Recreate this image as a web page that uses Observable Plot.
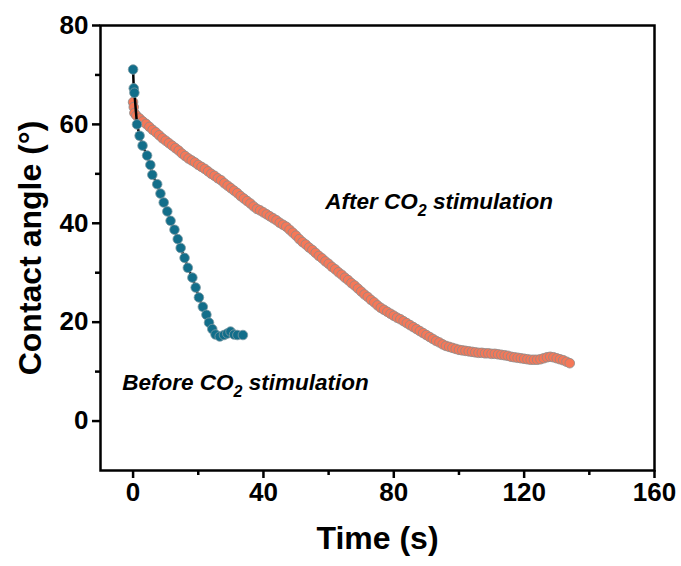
<!DOCTYPE html>
<html>
<head>
<meta charset="utf-8">
<script src="https://cdn.jsdelivr.net/npm/d3@7"></script>
<script src="https://cdn.jsdelivr.net/npm/@observablehq/plot@0.6"></script>
</head>
<body style="margin:0">
<script>
// ---- Data ----
const beforeTime = [0, 0.2, 0.4, 1.2, 2.0, 2.9, 4.3, 5.3, 5.9, 7.4, 8.4, 9.4, 10.5, 11.5, 12.7, 13.7, 14.6, 15.8, 16.8, 18.2, 19.2, 20.2, 21.4, 22.5, 23.3, 24.3, 25.3, 26.6, 27.9, 28.9, 29.9, 31.0, 32.0, 33.7];
const beforeAngle = [71.1, 67.3, 66.4, 60.0, 57.7, 55.7, 53.7, 51.8, 49.8, 47.9, 46.0, 44.2, 42.4, 40.5, 38.7, 36.8, 35.0, 33.0, 31.0, 29.0, 27.0, 25.0, 23.1, 21.5, 19.9, 18.6, 17.5, 17.1, 17.4, 17.7, 18.1, 17.5, 17.4, 17.4];

const afterTime = [0, 0.2, 0.4, 1, 2, 3, 4, 5, 6, 7, 8, 9, 10, 11, 12, 13, 14, 15, 16, 17, 18, 19, 20, 21, 22, 23, 24, 25, 26, 27, 28, 29, 30, 31, 32, 33, 34, 35, 36, 37, 38, 39, 40, 41, 42, 43, 44, 45, 46, 47, 48, 49, 50, 51, 52, 53, 54, 55, 56, 57, 58, 59, 60, 61, 62, 63, 64, 65, 66, 67, 68, 69, 70, 71, 72, 73, 74, 75, 76, 77, 78, 79, 80, 81, 82, 83, 84, 85, 86, 87, 88, 89, 90, 91, 92, 93, 94, 95, 96, 97, 98, 99, 100, 101, 102, 103, 104, 105, 106, 107, 108, 109, 110, 111, 112, 113, 114, 115, 116, 117, 118, 119, 120, 121, 122, 123, 124, 125, 126, 127, 128, 129, 130, 131, 132, 133, 134];
const afterAngle = [64.5, 63.5, 62.3, 61.8, 61.2, 60.6, 60.1, 59.5, 58.9, 58.4, 57.8, 57.2, 56.7, 56.2, 55.7, 55.2, 54.7, 54.1, 53.6, 53.1, 52.7, 52.3, 51.8, 51.4, 51.0, 50.5, 50.0, 49.6, 49.1, 48.7, 48.1, 47.6, 47.1, 46.6, 46.1, 45.5, 45.0, 44.5, 44.0, 43.4, 42.9, 42.6, 42.2, 41.8, 41.4, 41.0, 40.6, 40.1, 39.7, 39.3, 38.7, 38.1, 37.5, 36.8, 36.2, 35.7, 35.1, 34.6, 34.0, 33.4, 32.9, 32.3, 31.8, 31.2, 30.7, 30.1, 29.6, 29.0, 28.5, 27.9, 27.4, 26.8, 26.2, 25.6, 25.1, 24.5, 24.0, 23.4, 22.9, 22.5, 22.1, 21.7, 21.3, 20.9, 20.6, 20.2, 19.8, 19.4, 19.0, 18.6, 18.2, 17.8, 17.4, 17.0, 16.6, 16.2, 15.9, 15.5, 15.2, 15.0, 14.8, 14.6, 14.4, 14.3, 14.2, 14.1, 14.0, 13.9, 13.8, 13.8, 13.7, 13.7, 13.6, 13.6, 13.5, 13.4, 13.3, 13.2, 13.0, 12.9, 12.8, 12.7, 12.6, 12.5, 12.4, 12.4, 12.4, 12.5, 12.7, 12.9, 13.0, 12.9, 12.7, 12.5, 12.3, 12.0, 11.7, 11.4];

const xTicks = [0, 40, 80, 120, 160];
const xMinorTicks = [20, 60, 100, 140];
const yTicks = [0, 20, 40, 60, 80];
const yMinorTicks = [10, 30, 50, 70];

const xLabel = "Time (s)";
const yLabel = "Contact angle (°)";
const annotations = [
  {label: "After CO2 stimulation", t: 59, v: 44.3},
  {label: "Before CO2 stimulation", t: -3.3, v: 7.7}
];

const beforeData = beforeTime.map((t, i) => ({t, v: beforeAngle[i]}));
const afterData = afterTime.map((t, i) => ({t, v: afterAngle[i]}));

const W = 681, H = 566, ML = 100, MR = 27, MT = 25, MB = 96;
const font = "Liberation Sans, Arial, Helvetica, sans-serif";
const axisCommon = {stroke: "#000", strokeOpacity: 1, strokeWidth: 2.5, label: null};

const plot = Plot.plot({
  width: W,
  height: H,
  marginLeft: ML,
  marginRight: MR,
  marginTop: MT,
  marginBottom: MB,
  x: {domain: [-10, 160]},
  y: {domain: [-10, 80]},
  marks: [
    Plot.axisX({...axisCommon, ticks: xMinorTicks, tickSize: 5, text: null}),
    Plot.axisY({...axisCommon, ticks: yMinorTicks, tickSize: 5, text: null}),
    Plot.axisX({...axisCommon, ticks: xTicks, tickSize: 8, tickPadding: 4, fontSize: 26, fontWeight: "bold", fill: "#000"}),
    Plot.axisY({...axisCommon, ticks: yTicks, tickSize: 8, tickPadding: 4, fontSize: 26, fontWeight: "bold", fill: "#000"}),
    Plot.frame({stroke: "#000", strokeWidth: 2.5}),
    Plot.line(afterData, {x: "t", y: "v", stroke: "#000", strokeWidth: 1.5}),
    Plot.dot(afterData, {x: "t", y: "v", r: 4.8, fill: "#f57858", stroke: "#8c8c8c", strokeWidth: 0.8}),
    Plot.line(beforeData, {x: "t", y: "v", stroke: "#000", strokeWidth: 2.5}),
    Plot.dot(beforeData, {x: "t", y: "v", r: 4.8, fill: "#126e8a", stroke: "#7f9aa3", strokeWidth: 0.8}),
    Plot.text(annotations, {x: "t", y: "v", text: "label", textAnchor: "start", fontSize: 22.5, fontWeight: "bold", fontStyle: "italic", fill: "#000"}),
    Plot.text([xLabel], {frameAnchor: "bottom", dy: 78, fontSize: 32, fontWeight: "bold", fill: "#000"}),
    Plot.text([yLabel], {x: () => -31.5, y: () => 35, rotate: -90, fontSize: 32, fontWeight: "bold", fill: "#000"})
  ]
});

// font family set as an attribute on the svg
d3.select(plot).attr("font-family", font);

// Subscript the "2" in CO2
d3.select(plot).selectAll("text").each(function() {
  const el = d3.select(this);
  const s = el.text();
  const m = s.match(/^(.*CO)2(.*)$/);
  if (m && s.includes("stimulation")) {
    el.text(null);
    el.append("tspan").text(m[1]);
    el.append("tspan").attr("dy", 7).attr("font-size", 16).text("2");
    el.append("tspan").attr("dy", -7).text(m[2]);
  }
});

document.body.appendChild(plot);
</script>
</body>
</html>
